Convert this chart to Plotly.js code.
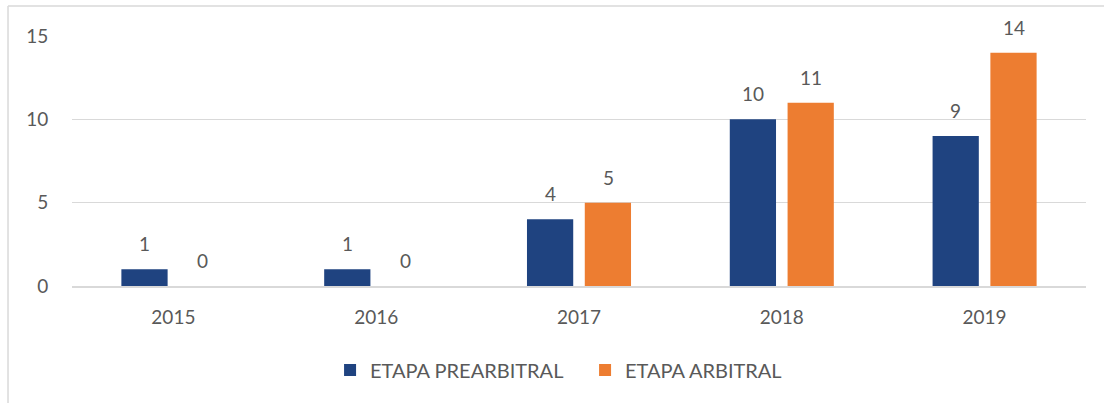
<!DOCTYPE html>
<html><head><meta charset="utf-8">
<script src="https://cdn.plot.ly/plotly-3.0.1.min.js"></script>
<style>html,body{margin:0;padding:0;background:#fff}#chart{width:1104px;height:403px}</style>
</head><body><div id="chart"></div>
<script>
const years = ['2015','2016','2017','2018','2019'];
const prearbitral = [1, 1, 4, 10, 9];
const arbitral = [0, 0, 5, 11, 14];
const seriesNames = ['ETAPA PREARBITRAL', 'ETAPA ARBITRAL'];
const colors = ['#1F4380', '#ED7D31'];
const textColor = '#595959';
const font = {family: 'Lato, "Open Sans", sans-serif', size: 19, color: textColor};

const traces = [prearbitral, arbitral].map((vals, i) => ({
  type: 'bar', x: years, y: vals, name: seriesNames[i],
  marker: {color: colors[i]}, hoverinfo: 'skip'
}));

const annotations = [];
[prearbitral, arbitral].forEach((vals, i) => {
  vals.forEach((v, j) => {
    annotations.push({x: j, y: v, xref: 'x', yref: 'y', text: String(v),
      showarrow: false, yanchor: 'bottom', xshift: i === 0 ? -29 : 29, yshift: 12,
      font: font});
  });
});

const layout = {
  width: 1104, height: 403,
  margin: {l: 72, r: 18, t: 36, b: 117},
  paper_bgcolor: '#fff', plot_bgcolor: '#fff',
  font: font,
  barmode: 'group', bargap: 0.43, bargroupgap: 0.2,
  xaxis: {type: 'category', range: [-0.5, 4.5], autorange: false, showgrid: false, zeroline: false, showline: true,
    linecolor: '#D9D9D9', linewidth: 1.5, ticks: 'outside', ticklen: 14,
    tickcolor: 'rgba(0,0,0,0)', tickfont: font},
  yaxis: {range: [0, 15], autorange: false, tickvals: [0, 5, 10, 15], showgrid: true, gridcolor: '#D9D9D9',
    gridwidth: 1.5, zeroline: false, showline: false, ticks: 'outside', ticklen: 19,
    tickcolor: 'rgba(0,0,0,0)', tickfont: font},
  showlegend: true,
  legend: {orientation: 'h', x: 0.2545, xanchor: 'left', y: -0.336, yanchor: 'middle',
    font: Object.assign({}, font, {size: 20}), traceorder: 'normal',
    entrywidth: 210, entrywidthmode: 'pixels'},
  annotations: annotations,
  shapes: [
    {type: 'line', xref: 'paper', yref: 'paper', x0: -0.0631, x1: 1.02, y0: 1.12, y1: 1.12,
      line: {color: '#D9D9D9', width: 1.5}},
    {type: 'line', xref: 'paper', yref: 'paper', x0: -0.0631, x1: -0.0631, y0: 1.12, y1: -0.47,
      line: {color: '#D9D9D9', width: 1.5}}
  ]
};

Plotly.newPlot('chart', traces, layout, {displayModeBar: false, staticPlot: true});
</script></body></html>
